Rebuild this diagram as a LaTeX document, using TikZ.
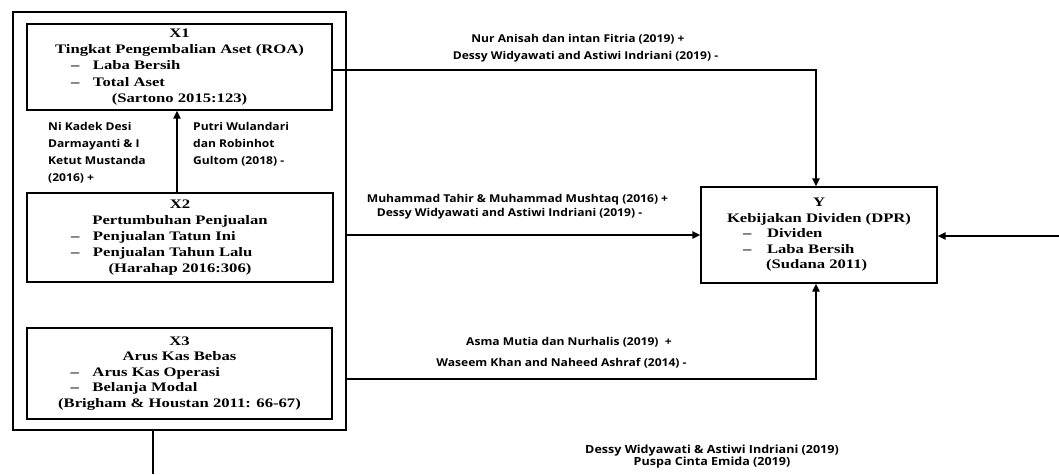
\documentclass[tikz,border=0pt]{standalone}
\usepackage{fontspec}
\usetikzlibrary{arrows.meta}
\newfontfamily\boxfont[FakeStretch=1.28]{Liberation Serif}
\newfontfamily\labfont[FakeStretch=1.12]{Open Sans}
\newcommand\itm[3]{\makebox[#1][l]{\makebox[#2][l]{\textendash}#3}}
\begin{document}
\begin{tikzpicture}[x=1pt,y=-1pt,
  varbox/.style={draw, line width=1.2pt, inner sep=0pt, align=center,
    font=\boxfont\bfseries\fontsize{13}{16.2}\selectfont},
  outerbox/.style={draw, line width=2.8pt, inner sep=0pt},
  conn/.style={line width=2pt},
  arr/.style={conn, -{Triangle[length=8pt,width=7pt]}},
  lab/.style={inner sep=0pt, font=\labfont\bfseries\fontsize{10.8}{17}\selectfont},
]
\useasboundingbox (0,0) rectangle (1059,474);

\node[outerbox, minimum width=333pt, minimum height=418pt] (outer) at (179.5,221) {};

\node[varbox, minimum width=305pt, minimum height=86pt] (x1) at (179.5,67)
  {X1\\Tingkat Pengembalian Aset (ROA)\\\itm{217pt}{22pt}{Laba Bersih}\\\itm{217pt}{22pt}{Total Aset}\\(Sartono 2015:123)};
\node[varbox, minimum width=306pt, minimum height=89pt] (x2) at (180,237.5)
  {X2\\Pertumbuhan Penjualan\\\itm{218pt}{22pt}{Penjualan Tatun Ini}\\\itm{218pt}{22pt}{Penjualan Tahun Lalu}\\(Harahap 2016:306)};
\node[varbox, minimum width=305pt, minimum height=91pt, font=\boxfont\bfseries\fontsize{13}{15.5}\selectfont] (x3) at (179.5,373.5)
  {X3\\Arus Kas Bebas\\\itm{218pt}{22pt}{Arus Kas Operasi}\\\itm{218pt}{22pt}{Belanja Modal}\\(Brigham \& Houstan 2011: 66-67)};
\node[varbox, minimum width=236pt, minimum height=96pt, font=\boxfont\bfseries\fontsize{13}{15.5}\selectfont] (y) at (819,235)
  {Y\\Kebijakan Dividen (DPR)\\\itm{152pt}{24pt}{Dividen}\\\itm{152pt}{24pt}{Laba Bersih}\\\makebox[152pt][l]{\hspace{23pt}(Sudana 2011)}};

% connectors
\coordinate (tc) at (816,70);
\coordinate (bc) at (816,379);
\coordinate (rin) at (1059,236);
\coordinate (va) at (177,0);
\coordinate (bs) at (153,474);
\draw[arr] (x1.east|-tc) -- (tc) -- (tc|-y.north);
\draw[arr] (outer.east|-y.west) -- (y.west);
\draw[arr] (outer.east|-bc) -- (bc) -- (bc|-y.south);
\draw[arr] (rin) -- (y.east|-rin);
\draw[arr] (x2.north-|va) -- (x1.south-|va);
\draw[conn] (outer.south-|bs) -- (bs);

% labels
\node[lab] (l1a) at (578,39) {Nur Anisah dan intan Fitria (2019) +};
\node[lab] (l1b) at (585.5,57) {Dessy Widyawati and Astiwi Indriani (2019) -};
\node[lab] (l2a) at (517.5,200) {Muhammad Tahir \& Muhammad Mushtaq (2016) +};
\node[lab] (l2b) at (509.5,214) {Dessy Widyawati and Astiwi Indriani (2019) -};
\node[lab] (l3a) at (569,342) {Asma Mutia dan Nurhalis (2019)\ \ +};
\node[lab] (l3b) at (561.5,363) {Waseem Khan and Naheed Ashraf (2014) -};
\node[lab, align=left, anchor=west] (l4) at (48,152.5) {Ni Kadek Desi\\Darmayanti \& I\\Ketut Mustanda\\(2016) +};
\node[lab, align=left, anchor=west] (l5) at (193,144) {Putri Wulandari\\dan Robinhot\\Gultom (2018) -};
\node[lab, align=center, font=\labfont\bfseries\fontsize{11.2}{11.5}\selectfont] (l6) at (712,456.5) {Dessy Widyawati \& Astiwi Indriani (2019)\\Puspa Cinta Emida (2019)};
\end{tikzpicture}
\end{document}
